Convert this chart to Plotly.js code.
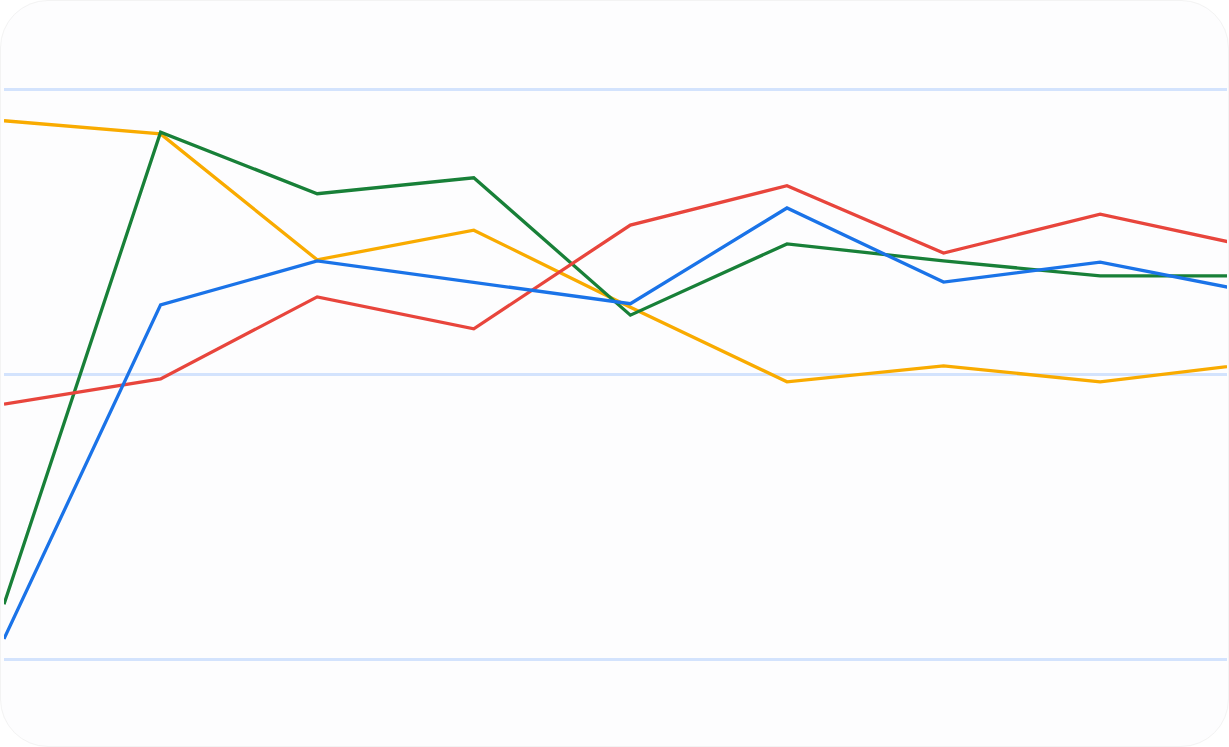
<!DOCTYPE html>
<html>
<head>
<meta charset="utf-8">
<script src="https://cdn.plot.ly/plotly-3.0.1.min.js"></script>
<style>
html,body{margin:0;padding:0;background:#ffffff;}
#card{position:absolute;left:0;top:0;width:1227px;height:745px;border:1px solid #f3f3f3;border-radius:48px;background:#fdfdfe;overflow:hidden;}
#chart{position:absolute;left:-1px;top:0px;width:1229px;height:747px;}
</style>
</head>
<body>
<div id="card"><div id="chart"></div></div>
<script>
var categories = [0, 1, 2, 3, 4, 5, 6, 7, 8];
var seriesBlue   = [3.7, 62.3, 70.0, 66.3, 62.5, 79.3, 66.3, 69.8, 64.4];
var seriesRed    = [44.9, 49.3, 63.7, 58.1, 76.3, 83.2, 71.4, 78.2, 72.3];
var seriesOrange = [94.6, 92.3, 70.2, 75.4, 61.9, 48.8, 51.6, 48.8, 52.1];
var seriesGreen  = [9.8, 92.6, 81.8, 84.6, 60.5, 73.0, 70.0, 67.4, 67.4];

function tr(y, color) {
  return {x: categories, y: y, type: 'scatter', mode: 'lines',
          line: {color: color, width: 3.3}, hoverinfo: 'skip', showlegend: false};
}
var data = [
  tr(seriesOrange, '#f9ab00'),
  tr(seriesGreen, '#188038'),
  tr(seriesRed, '#e8453c'),
  tr(seriesBlue, '#1a73e8')
];
var layout = {
  width: 1229, height: 747,
  margin: {l: 4, r: 2, t: 0, b: 0, pad: 0},
  paper_bgcolor: 'rgba(0,0,0,0)',
  plot_bgcolor: 'rgba(0,0,0,0)',
  showlegend: false,
  xaxis: {range: [0, 7.81], showgrid: false, zeroline: false, showticklabels: false, ticks: '', showline: false},
  yaxis: {range: [-15.44, 115.61], tick0: 0, dtick: 50, showgrid: true, gridcolor: '#d3e3fd', gridwidth: 3,
          zeroline: false, showticklabels: false, ticks: '', showline: false}
};
Plotly.newPlot('chart', data, layout, {staticPlot: true, displayModeBar: false});
</script>
</body>
</html>
